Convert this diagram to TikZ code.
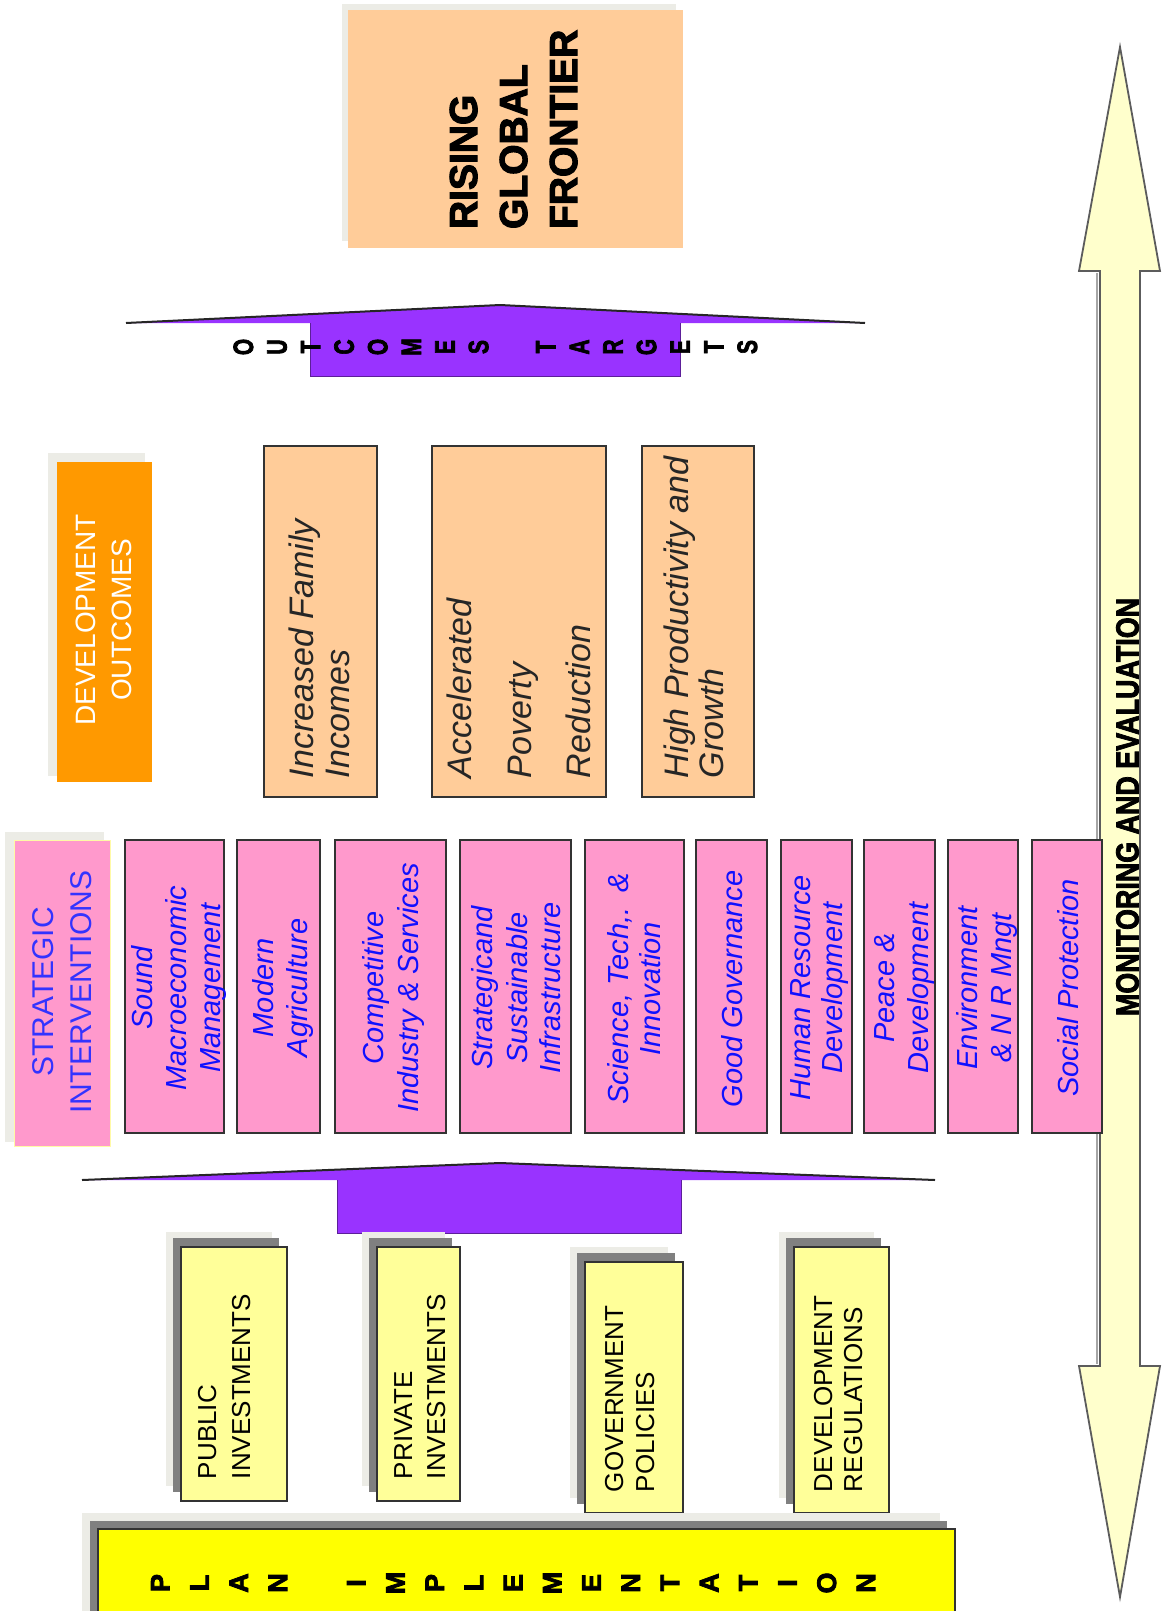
\documentclass[tikz,border=0pt]{standalone}
\usepackage{fontspec}
\setmainfont{Liberation Sans}
\newfontfamily\heavyfont[FakeBold=2.8]{Liberation Sans Bold}
\usepackage{graphicx}
\definecolor{peach}{HTML}{FFCC99}
\definecolor{orangebox}{HTML}{FF9900}
\definecolor{pinkbox}{HTML}{FF99CC}
\definecolor{purplearrow}{HTML}{9933FF}
\definecolor{paleyellow}{HTML}{FFFF99}
\definecolor{plainyellow}{HTML}{FFFF00}
\definecolor{cream}{HTML}{FFFFCC}
\definecolor{bluetext}{HTML}{1010FF}
\definecolor{bluelabel}{HTML}{3333FF}
\definecolor{shdark}{HTML}{808080}
\definecolor{shlight}{HTML}{ECECE6}
\definecolor{edge}{HTML}{333333}
\definecolor{darktext}{HTML}{262626}
\newcommand\setfs[1]{\fontsize{#1}{#1}\selectfont}
\newcommand\mybox[6]{\node[#6, inner sep=0pt, outer sep=0pt, minimum width={(#4-#2)*0.5pt}, minimum height={(#5-#3)*0.5pt}] (#1) at ({(#2+#4)/2},{(#3+#5)/2}) {};}
\begin{document}
\begin{tikzpicture}[x=0.5pt,y=-0.5pt,
  tx/.style={inner sep=0pt, outer sep=0pt, rotate=90, anchor=base},
  txl/.style={tx, anchor=base west},
  peachbox/.style={fill=peach, draw=edge, line width=1pt},
  pinkb/.style={fill=pinkbox, draw=edge, line width=1pt},
  yelbox/.style={fill=paleyellow, draw=edge, line width=1pt},
  rgf/.style={font=\heavyfont\setfs{19.5pt}},
  outtxt/.style={font=\itshape\setfs{17pt}, text=darktext},
  pinktxt/.style={font=\itshape\setfs{14.5pt}, text=bluetext},
  yeltxt/.style={font=\setfs{13pt}, text=black},
  headline/.style={draw=black!85, line width=1pt, line join=round}]
\fill[white] (0,0) rectangle (1165,1611);
\useasboundingbox (0,0) rectangle (1165,1611);
\clip (0,0) rectangle (1165,1611);

% Monitoring and evaluation double arrow
\path[fill=cream, draw=edge!80, line width=0.9pt, line join=miter]
  (1120,47) -- (1160,271) -- (1140,271) -- (1140,1366) -- (1160,1366) -- (1120,1597)
  -- (1079,1366) -- (1100,1366) -- (1100,271) -- (1079,271) -- cycle;
\draw[black!35, line width=1pt] (1097,273) -- (1097,1364);
\node[tx, font=\heavyfont\setfs{16pt}] (me) at (1138.5,807) {\scalebox{0.84}[1]{MONITORING AND EVALUATION}};

% Rising global frontier
\fill[shlight] (342,4) rectangle (676,241);
\mybox{rgfbox}{348}{10}{683}{248}{fill=peach}
\node[txl, rgf] (rising) at (477,229) {RISING};
\node[txl, rgf] (global) at (527,229) {GLOBAL};
\node[txl, rgf] (frontier) at (577,229) {FRONTIER};

% Outcomes targets arrow
\path[fill=purplearrow] (126,323) -- (500,305) -- (865,323) -- (680,323) -- (680,376) -- (310,376) -- (310,323) -- cycle;
\draw[purplearrow!60!black, line width=0.4pt] (680,323) -- (680,376) -- (310,376) -- (310,323);
\draw[headline] (126,323) -- (500,305) -- (865,323);
\foreach \ltr/\i in {O/0,U/1,T/2,C/3,O/4,M/5,E/6,S/7,T/9,A/10,R/11,G/12,E/13,T/14,S/15}
  \node[tx, font=\heavyfont\setfs{14pt}] (ot\i) at ({243+33.6*\i+10},347) {\scalebox{0.75}[1]{\ltr}};

% Development outcomes
\fill[shlight] (48,453) rectangle (145,776);
\mybox{devout}{57}{462}{152}{782}{fill=orangebox}
\node[tx, font=\setfs{14pt}, text=white] (devl1) at (95,620) {DEVELOPMENT};
\node[tx, font=\setfs{14pt}, text=white] (devl2) at (131,620) {OUTCOMES};

\mybox{o1}{264}{446}{377}{797}{peachbox}
\mybox{o2}{432}{446}{606}{797}{peachbox}
\mybox{o3}{642}{446}{754}{797}{peachbox}
\node[txl, outtxt] (o1a) at (313,778) {Increased Family};
\node[txl, outtxt] (o1b) at (349,778) {Incomes};
\node[txl, outtxt] (o2a) at (471,778) {Accelerated};
\node[txl, outtxt] (o2b) at (531,778) {Poverty};
\node[txl, outtxt] (o2c) at (590,778) {Reduction};
\node[txl, outtxt] (o3a) at (688,778) {High Productivity and};
\node[txl, outtxt] (o3b) at (723,778) {Growth};

% Strategic interventions
\fill[shlight] (5,832) rectangle (104,1142);
\mybox{si}{14}{840}{110}{1146}{fill=pinkbox, draw=yellow!35, line width=0.5pt}
\node[tx, font=\setfs{15pt}, text=bluelabel] (si1) at (53,992) {STRATEGIC};
\node[tx, font=\setfs{15pt}, text=bluelabel] (si2) at (91,992) {INTERVENTIONS};

\mybox{s1}{125}{840}{224}{1133}{pinkb}
\mybox{s2}{237}{840}{320}{1133}{pinkb}
\mybox{s3}{335}{840}{446}{1133}{pinkb}
\mybox{s4}{460}{840}{571}{1133}{pinkb}
\mybox{s5}{585}{840}{684}{1133}{pinkb}
\mybox{s6}{696}{840}{767}{1133}{pinkb}
\mybox{s7}{781}{840}{852}{1133}{pinkb}
\mybox{s8}{864}{840}{935}{1133}{pinkb}
\mybox{s9}{948}{840}{1018}{1133}{pinkb}
\mybox{s10}{1032}{840}{1102}{1133}{pinkb}
\node[tx, pinktxt] (s1a) at (152,988) {Sound};
\node[tx, pinktxt] (s1b) at (186,988) {Macroeconomic};
\node[tx, pinktxt] (s1c) at (220,988) {Management};
\node[tx, pinktxt] (s2a) at (273,988) {Modern};
\node[tx, pinktxt] (s2b) at (307,988) {Agriculture};
\node[tx, pinktxt] (s3a) at (383,988) {Competitive};
\node[tx, pinktxt] (s3b) at (418,988) {Industry \& Services};
\node[tx, pinktxt] (s4a) at (492,988) {Strategicand};
\node[tx, pinktxt] (s4b) at (527,988) {Sustainable};
\node[tx, pinktxt] (s4c) at (560,988) {Infrastructure};
\node[tx, pinktxt] (s5a) at (628,989) {Science, Tech,.\hspace{0.5em}\&};
\node[tx, pinktxt] (s5b) at (660,989) {Innovation};
\node[tx, pinktxt] (s6a) at (742,989) {Good Governance};
\node[tx, pinktxt] (s7a) at (810,988) {Human Resource};
\node[tx, pinktxt] (s7b) at (842,988) {Development};
\node[tx, pinktxt] (s8a) at (894,988) {Peace \&};
\node[tx, pinktxt] (s8b) at (928,988) {Development};
\node[tx, pinktxt] (s9a) at (977,988) {Environment};
\node[tx, pinktxt] (s9b) at (1011,988) {\& N R Mngt};
\node[tx, pinktxt] (s10a) at (1078,988) {Social Protection};

% Lower arrow
\path[fill=purplearrow] (82,1180) -- (500,1163) -- (935,1180) -- (681,1180) -- (681,1233) -- (337,1233) -- (337,1180) -- cycle;
\draw[purplearrow!60!black, line width=0.4pt] (681,1180) -- (681,1233) -- (337,1233) -- (337,1180);
\draw[headline] (82,1180) -- (500,1163) -- (935,1180);

% Input boxes
\foreach \xa/\ya/\xb/\yb in {181/1247/287/1501, 377/1247/460/1501, 585/1262/683/1513, 794/1247/889/1513}{
  \fill[shlight] (\xa-15,\ya-15) rectangle (\xb-15,\yb-15);
  \fill[shdark] (\xa-8,\ya-9) rectangle (\xb-8,\yb-9);
}
\mybox{pub}{181}{1247}{287}{1501}{yelbox}
\mybox{pri}{377}{1247}{460}{1501}{yelbox}
\mybox{gov}{585}{1262}{683}{1513}{yelbox}
\mybox{dev}{794}{1247}{889}{1513}{yelbox}
\node[txl, yeltxt] (pub1) at (216,1479) {PUBLIC};
\node[txl, yeltxt] (pub2) at (250,1479) {INVESTMENTS};
\node[txl, yeltxt] (pri1) at (412,1479) {PRIVATE};
\node[txl, yeltxt] (pri2) at (445,1479) {INVESTMENTS};
\node[txl, yeltxt] (gov1) at (623,1492) {GOVERNMENT};
\node[txl, yeltxt] (gov2) at (654,1492) {POLICIES};
\node[txl, yeltxt] (dev1) at (832,1492) {DEVELOPMENT};
\node[txl, yeltxt] (dev2) at (862,1492) {REGULATIONS};

% Plan implementation
\fill[shlight] (82,1513) rectangle (940,1630);
\fill[shdark] (90,1521) rectangle (947,1630);
\mybox{plan}{98}{1529}{955}{1640}{fill=plainyellow, draw=edge, line width=1pt}
\foreach \ltr/\i in {P/0,L/1,A/2,N/3,I/5,M/6,P/7,L/8,E/9,M/10,E/11,N/12,T/13,A/14,T/15,I/16,O/17,N/18}
  \node[tx, font=\heavyfont\setfs{13.5pt}] (pl\i) at ({160+39.2*\i+9.6},1583) {\ltr};
\end{tikzpicture}
\end{document}
